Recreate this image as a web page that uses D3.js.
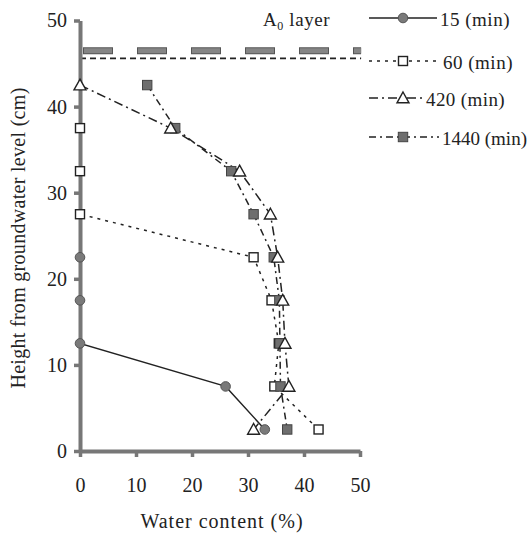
<!DOCTYPE html>
<html>
<head>
<meta charset="utf-8">
<script src="https://cdn.jsdelivr.net/npm/d3@7"></script>
<style>
  html, body { margin: 0; padding: 0; background: #fff; }
  svg { display: block; }
  svg text { font-family: "Liberation Serif", "DejaVu Serif", "Times New Roman", Times, serif !important; fill: #222; }
</style>
</head>
<body>
<svg id="chart" width="532" height="536"></svg>
<script>
// Height of each sampling point above the groundwater table (cm)
const heights = [42.5, 37.5, 32.5, 27.5, 22.5, 17.5, 12.5, 7.5, 2.5];
// Water content (%) at each height, per elapsed time; null = not plotted
const wc15   = [null, null, null, null, 0, 0, 0, 26, 33];
const wc60   = [null, 0, 0, 0, 31, 34.2, 35.5, 34.7, 42.6];
const wc420  = [0, 16.2, 28.5, 34, 35.3, 36.2, 36.6, 37.3, 31];
const wc1440 = [12, 17, 27, 31, 34.6, 35.6, 35.7, 35.8, 37];

const seriesNames = ["15 (min)", "60 (min)", "420 (min)", "1440 (min)"];
// A0 (litter) layer: top and bottom boundary heights (cm)
const a0Top = 46.5;
const a0Bottom = 45.6;

const xTicks = [0, 10, 20, 30, 40, 50];
const yTicks = [0, 10, 20, 30, 40, 50];

const svg = d3.select("#chart");
const x = d3.scaleLinear().domain([0, 50]).range([80, 360]);
const y = d3.scaleLinear().domain([0, 50]).range([451, 20.5]);

const styles = [
  { dash: null,        marker: "circle" },
  { dash: "3,5",       marker: "wsquare" },
  { dash: "9,4,2,4",   marker: "triangle" },
  { dash: "7,4,2,4",   marker: "gsquare" }
];
const seriesData = [wc15, wc60, wc420, wc1440].map(vals =>
  heights.map((h, i) => ({ h, w: vals[i] })).filter(d => d.w !== null));

// A0 layer boundaries
svg.append("line")
  .attr("x1", x(0)).attr("x2", x(50.2))
  .attr("y1", y(a0Top)).attr("y2", y(a0Top))
  .attr("stroke", "#555").attr("stroke-width", 7)
  .attr("stroke-dasharray", "30,24").attr("stroke-dashoffset", 51);
svg.append("line")
  .attr("x1", x(0)).attr("x2", x(50.2))
  .attr("y1", y(a0Top)).attr("y2", y(a0Top))
  .attr("stroke", "#858585").attr("stroke-width", 5)
  .attr("stroke-dasharray", "28,26").attr("stroke-dashoffset", 50);
svg.append("line")
  .attr("x1", x(0)).attr("x2", x(50.2))
  .attr("y1", y(a0Bottom)).attr("y2", y(a0Bottom))
  .attr("stroke", "#222").attr("stroke-width", 1.6)
  .attr("stroke-dasharray", "6,4");

// Series lines
const line = d3.line().x(d => x(d.w)).y(d => y(d.h));
seriesData.forEach((data, i) => {
  svg.append("path")
    .datum(data)
    .attr("d", line)
    .attr("fill", "none")
    .attr("stroke", "#222")
    .attr("stroke-width", i === 0 ? 1.4 : 1.5)
    .attr("stroke-dasharray", styles[i].dash);
});

// Axes
const yAxis = svg.append("g")
  .attr("transform", `translate(${x(0)},0)`)
  .call(d3.axisLeft(y).tickValues(yTicks).tickSize(6).tickPadding(7).tickSizeOuter(0));
const xAxis = svg.append("g")
  .attr("transform", `translate(0,${y(0)})`)
  .call(d3.axisBottom(x).tickValues(xTicks).tickSize(6).tickPadding(21).tickSizeOuter(0));
[xAxis, yAxis].forEach(g => {
  g.attr("font-family", null);
  g.select(".domain").attr("stroke", "#777").attr("stroke-width", 4);
  g.selectAll(".tick line").attr("stroke", "#777").attr("stroke-width", 3.5);
  g.selectAll(".tick text").attr("font-size", 20).attr("fill", "#222");
});
xAxis.selectAll(".tick text").attr("dy", "0.71em");

// Marker drawing
function drawMarker(g, type, cx, cy) {
  if (type === "circle") {
    g.append("circle").attr("cx", cx).attr("cy", cy).attr("r", 4.8)
      .attr("fill", "#7a7a7a").attr("stroke", "#555").attr("stroke-width", 1);
  } else if (type === "wsquare") {
    g.append("rect").attr("x", cx - 4.5).attr("y", cy - 4.5)
      .attr("width", 9).attr("height", 9)
      .attr("fill", "#fff").attr("stroke", "#222").attr("stroke-width", 1.4);
  } else if (type === "gsquare") {
    g.append("rect").attr("x", cx - 4.7).attr("y", cy - 4.7)
      .attr("width", 9.4).attr("height", 9.4)
      .attr("fill", "#6e6e6e").attr("stroke", "#444").attr("stroke-width", 1);
  } else {
    const s = 6;
    g.append("path")
      .attr("d", `M${cx},${cy - s}L${cx + s},${cy + s * 0.8}L${cx - s},${cy + s * 0.8}Z`)
      .attr("fill", "#fff").attr("stroke", "#222").attr("stroke-width", 1.4);
  }
}

// Markers: 15, 60, 1440 then 420 on top
[0, 1, 3, 2].forEach(i => {
  const g = svg.append("g");
  seriesData[i].forEach(d => drawMarker(g, styles[i].marker, x(d.w), y(d.h)));
});

// Legend
const legendY = [18, 61, 98, 137];
const legendTextX = [440, 443, 426, 442];
const legendSpacing = [0.5, 0.5, 0.4, 0];
const a0 = svg.append("text").attr("x", 263).attr("y", 26).attr("font-size", 19)
  .attr("letter-spacing", 0.6);
a0.append("tspan").text("A");
a0.append("tspan").attr("font-size", 12).attr("dy", 4).text("0");
a0.append("tspan").attr("dy", -4).text(" layer");
seriesNames.forEach((name, i) => {
  const g = svg.append("g");
  g.append("line").attr("x1", 369).attr("x2", legendTextX[i] - 3)
    .attr("y1", legendY[i]).attr("y2", legendY[i])
    .attr("stroke", "#222").attr("stroke-width", 1.4)
    .attr("stroke-dasharray", styles[i].dash);
  drawMarker(g, styles[i].marker, 403, legendY[i]);
  g.append("text").attr("x", legendTextX[i]).attr("y", legendY[i] + 8)
    .attr("font-size", 19).attr("letter-spacing", legendSpacing[i]).text(name);
});

// Axis titles
svg.append("text")
  .attr("x", 222).attr("y", 528).attr("text-anchor", "middle")
  .attr("font-size", 20).attr("letter-spacing", 1).text("Water content (%)");
svg.append("text")
  .attr("transform", "translate(25,238) rotate(-90)")
  .attr("text-anchor", "middle")
  .attr("font-size", 20).attr("letter-spacing", 0.3).text("Height from groundwater level (cm)");
</script>
</body>
</html>
